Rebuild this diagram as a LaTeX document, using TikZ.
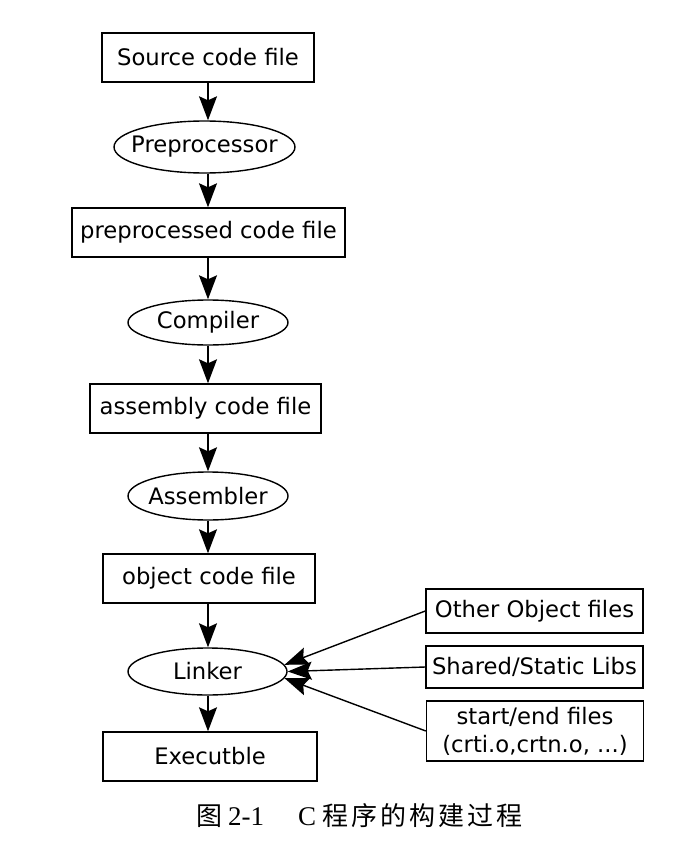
\documentclass[tikz,border=0pt]{standalone}
\usepackage{fontspec}
\setmainfont{DejaVu Sans}
\newfontfamily\capfont{Liberation Serif}
\newfontfamily\cjkfont{Noto Sans CJK SC}
\usetikzlibrary{shapes.geometric,arrows.meta}
\begin{document}
\begin{tikzpicture}[x=1pt,y=-1pt,
  every node/.style={font=\fontsize{22.7}{28}\selectfont, inner sep=0pt},
  box/.style={draw, line width=1.4pt, rectangle, align=center},
  oval/.style={draw, line width=1.4pt, ellipse},
  arr/.style={line width=1.4pt, -{Stealth[length=24pt,width=18pt,inset=4pt]}}]
\useasboundingbox (0,0) rectangle (696,856);
\node[box, minimum width=212pt, minimum height=49pt] (src) at (208,57.5) {Source code file};
\node[oval, minimum width=181pt, minimum height=52pt] (pre) at (204.5,147) {\makebox[0pt]{Preprocessor}};
\node[box, minimum width=273pt, minimum height=49pt] (ppf) at (208.5,232.5) {preprocessed code file};
\node[oval, minimum width=160pt, minimum height=45pt] (cmp) at (208,322.5) {\makebox[0pt]{Compiler}};
\node[box, minimum width=231pt, minimum height=49pt] (asf) at (205.5,408.5) {assembly code file};
\node[oval, minimum width=160pt, minimum height=48pt] (asm) at (208,496) {\makebox[0pt]{Assembler}};
\node[box, minimum width=212pt, minimum height=49pt] (obj) at (209,578.5) {object code file};
\node[oval, minimum width=159pt, minimum height=47pt] (lnk) at (207.5,671.5) {\makebox[0pt]{Linker}};
\node[box, minimum width=214pt, minimum height=49pt] (exe) at (210,756.5) {Executble};
\node[box, minimum width=217pt, minimum height=44pt] (oth) at (534.5,611) {Other Object files};
\node[box, minimum width=217pt, minimum height=42pt] (lib) at (534.5,667) {Shared/Static Libs};
\node[box, minimum width=217pt, minimum height=60pt] (se) at (535,731) {start/end files\\(crti.o,crtn.o, ...)};
\draw[arr] (src.south -| 208,0) -- (pre.north -| 208,0);
\draw[arr] (pre.south -| 208,0) -- (ppf.north -| 208,0);
\draw[arr] (ppf.south -| 208,0) -- (cmp.north -| 208,0);
\draw[arr] (cmp.south -| 208,0) -- (asf.north -| 208,0);
\draw[arr] (asf.south -| 208,0) -- (asm.north -| 208,0);
\draw[arr] (asm.south -| 208,0) -- (obj.north -| 208,0);
\draw[arr] (obj.south -| 208,0) -- (lnk.north -| 208,0);
\draw[arr] (lnk.south -| 208,0) -- (exe.north -| 208,0);
\draw[arr] (oth.west) -- (lnk.5);
\draw[arr] (lib.west) -- (lnk.east);
\draw[arr] (se.west) -- (lnk.-5);
\node[font=\fontsize{26}{30}\selectfont, anchor=west] (cap) at (196,816) {{\cjkfont 图}\hspace{6pt}{\capfont\fontsize{27}{30}\selectfont 2-1}\hspace{34pt}{\capfont\fontsize{27}{30}\selectfont C}\hspace{6pt}{\cjkfont 程\hspace{3pt}序\hspace{3pt}的\hspace{3pt}构\hspace{3pt}建\hspace{3pt}过\hspace{3pt}程}};
\end{tikzpicture}
\end{document}
